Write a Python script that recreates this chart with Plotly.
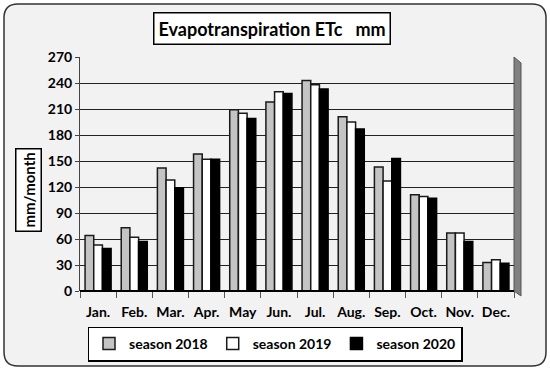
import plotly.graph_objects as go

months = ["Jan.", "Feb.", "Mar.", "Apr.", "May", "Jun.", "Jul.", "Aug.", "Sep.", "Oct.", "Nov.", "Dec."]
season_2018 = [64, 73, 142, 158, 209, 218, 243, 201, 143, 111, 67, 33]
season_2019 = [53, 62, 128, 152, 205, 230, 238, 195, 127, 109, 67, 36]
season_2020 = [49, 57, 119, 152, 199, 228, 233, 187, 153, 107, 57, 32]
y_ticks = [0, 30, 60, 90, 120, 150, 180, 210, 240, 270]

W, H = 550, 371
L, R, T, B = 80, 36, 57, 80
pw, ph = W - L - R, H - T - B

def px(x):
    return (x - L) / pw

def py(y):
    return (H - B - y) / ph

FONT = "Lato"

fig = go.Figure()
fig.add_trace(go.Bar(name="season 2018", x=months, y=season_2018,
                     marker=dict(color="#c4c4c4", line=dict(color="#1a1a1a", width=1.5))))
fig.add_trace(go.Bar(name="season 2019", x=months, y=season_2019,
                     marker=dict(color="#ffffff", line=dict(color="#1a1a1a", width=1.5))))
fig.add_trace(go.Bar(name="season 2020", x=months, y=season_2020,
                     marker=dict(color="#000000", line=dict(color="#000000", width=1.5))))

# rounded outer border (chart frame)
x0, x1, y0, y1, r = px(4), px(546), py(366), py(4), 14
rx, ry = r / pw, r / ph
path = (f"M {x0+rx} {y0} L {x1-rx} {y0} Q {x1} {y0} {x1} {y0+ry} "
        f"L {x1} {y1-ry} Q {x1} {y1} {x1-rx} {y1} L {x0+rx} {y1} "
        f"Q {x0} {y1} {x0} {y1-ry} L {x0} {y0+ry} Q {x0} {y0} {x0+rx} {y0} Z")
shapes = [
    dict(type="path", xref="paper", yref="paper", path=path,
         fillcolor="#f2f2f2", line=dict(color="#333333", width=1.5), layer="below"),
    # right side wall of 3D plot
    dict(type="path", xref="paper", yref="paper",
         path=f"M 1 0 L {px(521)} {py(296)} L {px(521)} {py(63)} L 1 1 Z",
         fillcolor="#808080", line=dict(color="#555555", width=1), layer="below"),
    # floor line
    dict(type="line", xref="paper", yref="paper", x0=0, x1=1, y0=0, y1=0,
         line=dict(color="#000000", width=2)),
]

fig.update_layout(
    width=W, height=H,
    margin=dict(l=L, r=R, t=T, b=B, autoexpand=False),
    paper_bgcolor="#ffffff",
    plot_bgcolor="#ffffff",
    barmode="group",
    bargap=0.28,
    bargroupgap=0.0,
    font=dict(family=FONT, size=13, color="#000000"),
    shapes=shapes,
    xaxis=dict(type="category", tickson="boundaries", ticks="outside", ticklen=6,
               tickcolor="#555555", showline=False, showgrid=False, tickangle=0,
               automargin=False, ticklabelstandoff=11,
               tickfont=dict(family=FONT, size=14, color="#000000", weight="bold")),
    yaxis=dict(range=[0, 270], tickvals=y_ticks, showgrid=True, gridcolor="#222222",
               gridwidth=1, zeroline=False, showline=True, linecolor="#444444",
               ticks="outside", ticklen=4, tickcolor="#444444", automargin=False,
               tickfont=dict(family=FONT, size=14, color="#000000", weight="bold")),
    showlegend=True,
    legend=dict(orientation="h", x=px(275), xanchor="center", y=py(344), yanchor="middle",
                bgcolor="#ffffff", bordercolor="#000000", borderwidth=1.5,
                font=dict(family=FONT, size=14, color="#000000", weight="bold"),
                itemwidth=30, traceorder="normal"),
    annotations=[
        dict(text="<b>Evapotranspiration ETc   mm</b>", xref="paper", yref="paper",
             x=px(272), y=py(29), xanchor="center", yanchor="middle", showarrow=False,
             font=dict(family=FONT, size=18, color="#000000"),
             bgcolor="#ffffff", bordercolor="#000000", borderwidth=1.5, borderpad=4),
        dict(text="<b>mm/month</b>", xref="paper", yref="paper",
             x=px(28), y=py(190), xanchor="center", yanchor="middle", showarrow=False,
             textangle=-90, font=dict(family=FONT, size=15, color="#000000"),
             bgcolor="#ffffff", bordercolor="#000000", borderwidth=1.5, borderpad=3),
    ],
)

fig.write_html("out.html", config={"displayModeBar": False},
               post_script="document.body.style.margin='0px';")
